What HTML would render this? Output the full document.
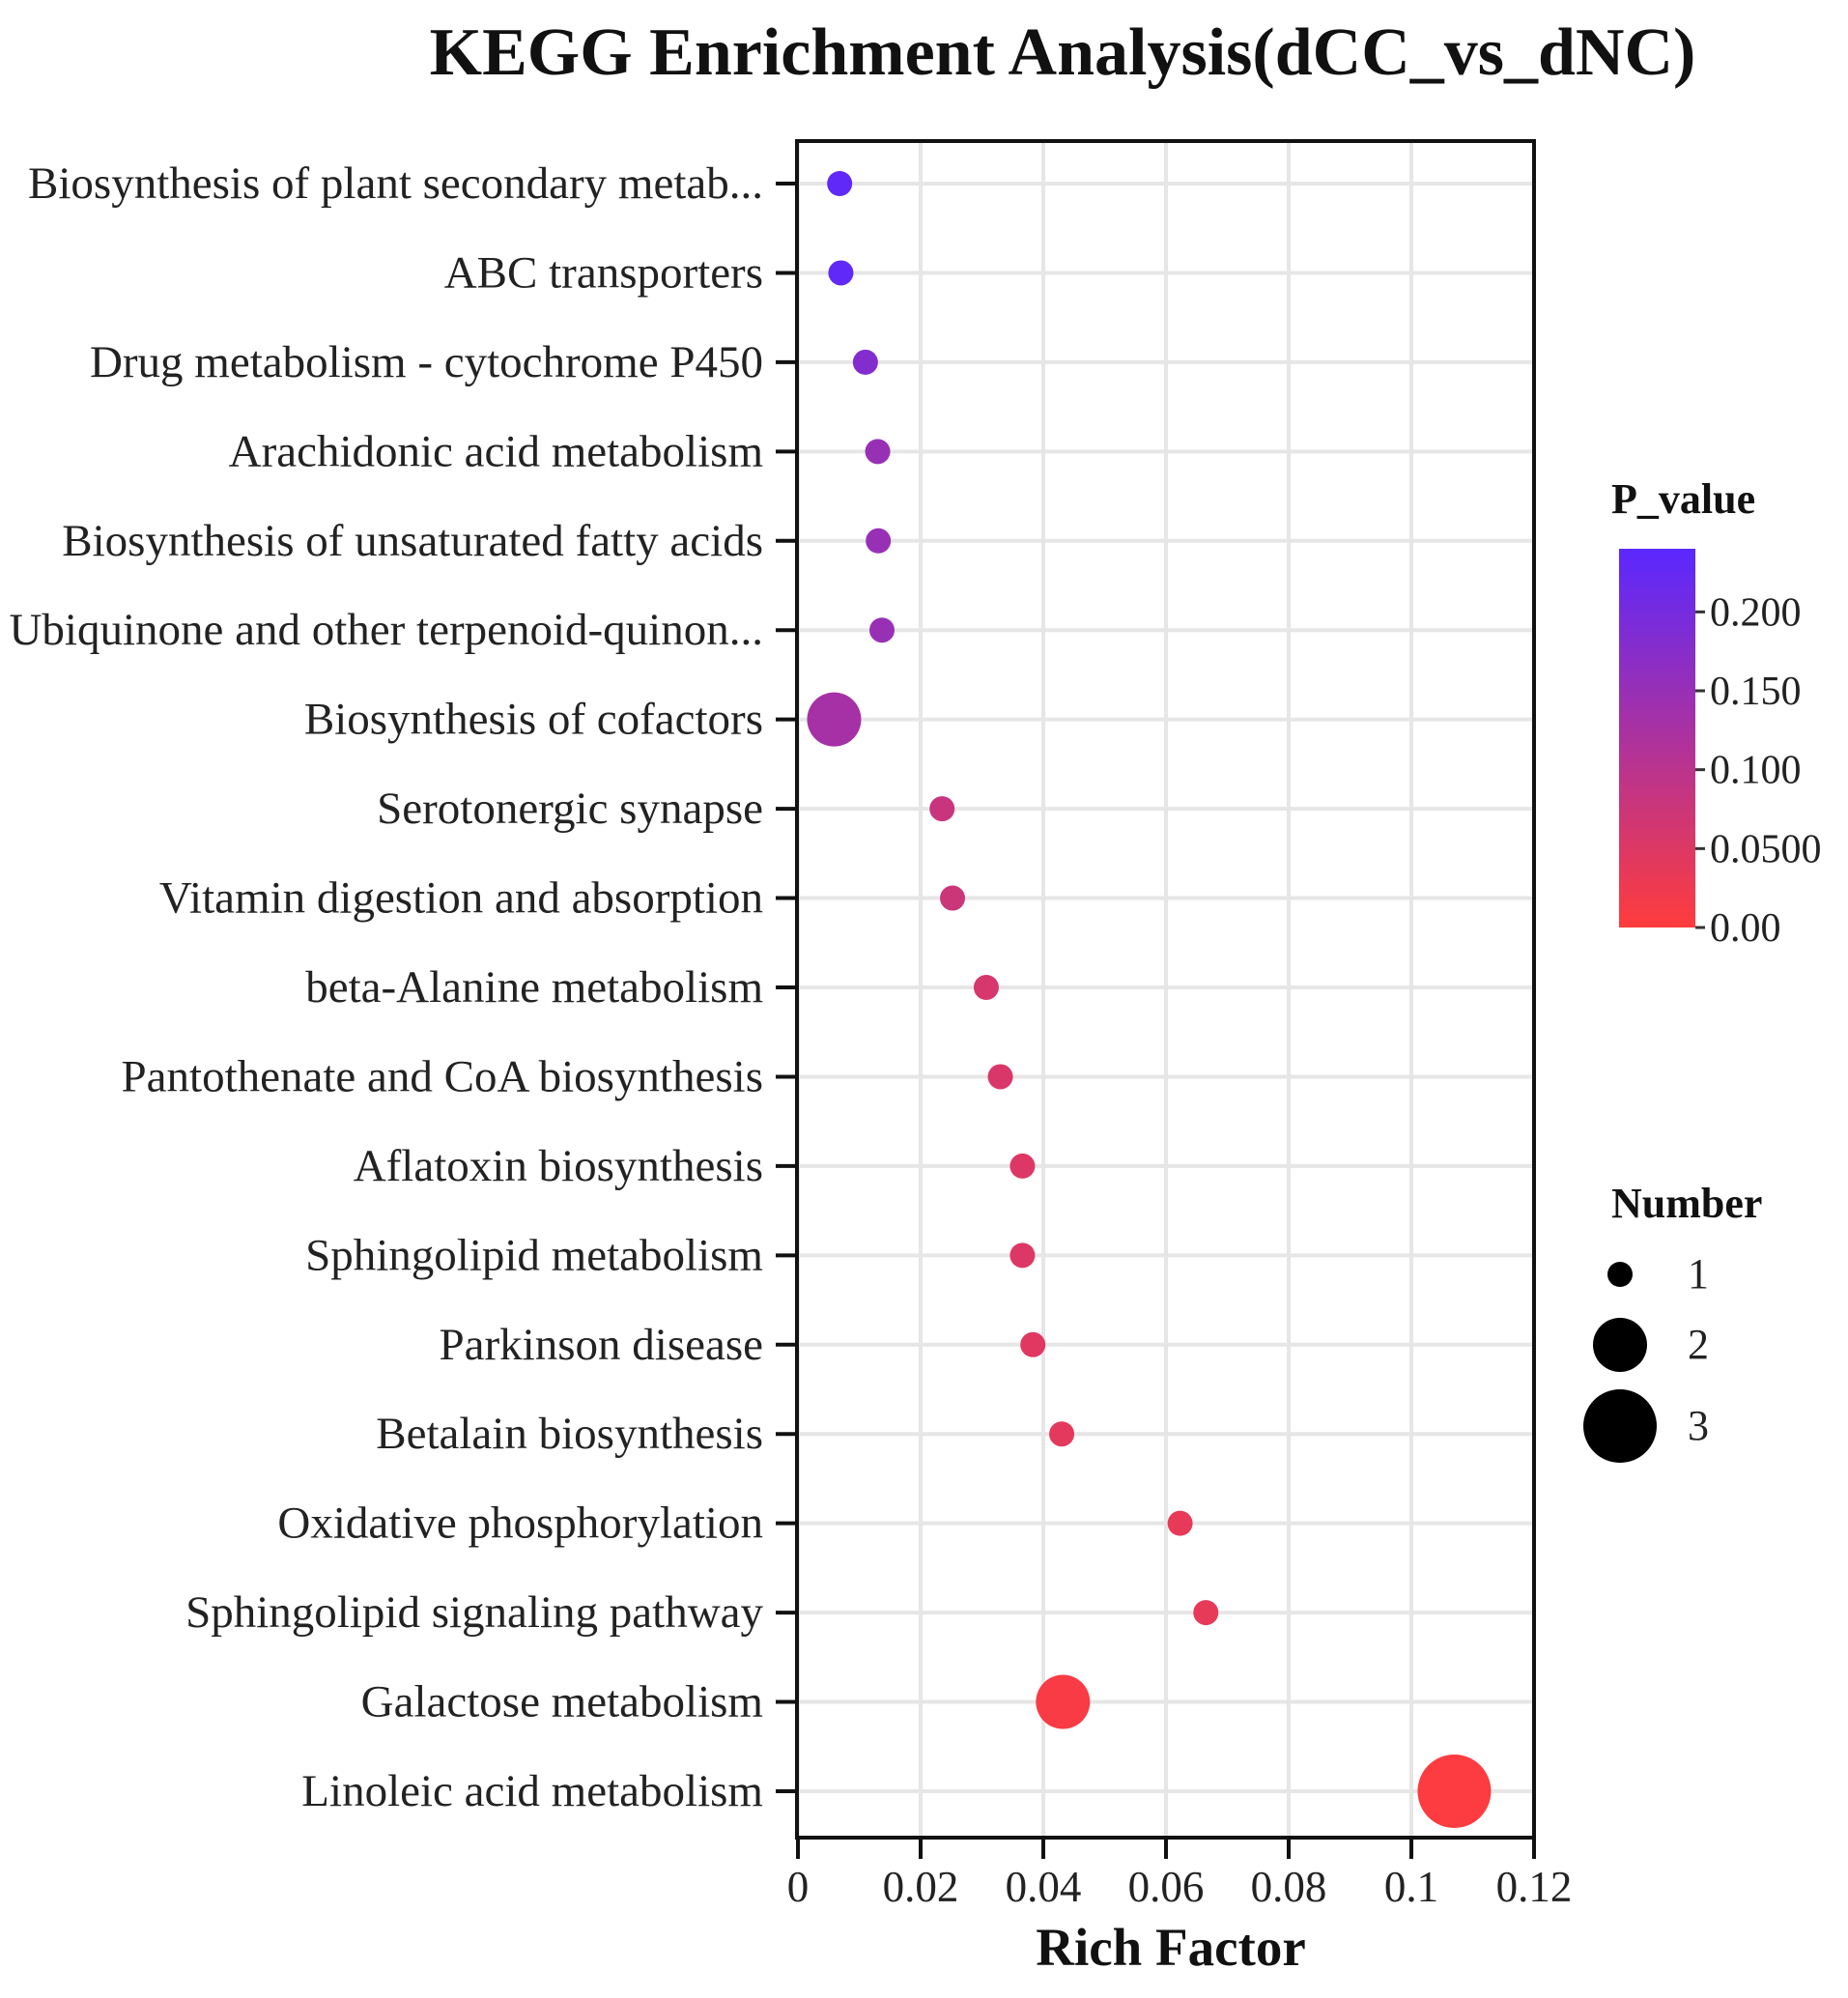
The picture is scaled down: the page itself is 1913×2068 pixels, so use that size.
<!DOCTYPE html>
<html><head><meta charset="utf-8"><style>html,body{margin:0;padding:0;background:#fff}svg{display:block}</style></head>
<body>
<svg id="chart" width="1913" height="2068" xmlns="http://www.w3.org/2000/svg" font-family="Liberation Serif, serif">
<text x="1100" y="77" font-size="70" font-weight="bold" text-anchor="middle" fill="#111">KEGG Enrichment Analysis(dCC_vs_dNC)</text>
<g id="grid"></g><g id="ylab"></g><g id="xlab"></g><g id="dots"></g>
<rect x="825" y="146" width="763" height="1756" fill="none" stroke="#111" stroke-width="4"/>
<text x="1212" y="2034" font-size="55" font-weight="bold" text-anchor="middle" fill="#111">Rich Factor</text>
<defs><linearGradient id="pg" x1="0" y1="1" x2="0" y2="0"><stop offset="0" stop-color="rgb(255,60,60)"/><stop offset="1" stop-color="rgb(90,40,255)"/></linearGradient></defs>
<text x="1668" y="531" font-size="44" font-weight="bold" fill="#111">P_value</text>
<rect x="1676" y="568" width="79" height="392" fill="url(#pg)"/>
<g id="cbticks"></g>
<text x="1668" y="1260" font-size="44" font-weight="bold" fill="#111">Number</text>
<g id="sizeleg"></g>
</svg>
<script>
const categories=["Biosynthesis of plant secondary metab...","ABC transporters","Drug metabolism - cytochrome P450","Arachidonic acid metabolism","Biosynthesis of unsaturated fatty acids","Ubiquinone and other terpenoid-quinon...","Biosynthesis of cofactors","Serotonergic synapse","Vitamin digestion and absorption","beta-Alanine metabolism","Pantothenate and CoA biosynthesis","Aflatoxin biosynthesis","Sphingolipid metabolism","Parkinson disease","Betalain biosynthesis","Oxidative phosphorylation","Sphingolipid signaling pathway","Galactose metabolism","Linoleic acid metabolism"];
const richFactor=[0.0068,0.007,0.011,0.013,0.0131,0.0137,0.0059,0.0235,0.0252,0.0307,0.033,0.0366,0.0366,0.0383,0.043,0.0623,0.0665,0.0432,0.107];
const pValues=[0.23,0.23,0.18,0.15,0.15,0.15,0.13,0.08,0.075,0.06,0.055,0.05,0.05,0.045,0.04,0.035,0.035,0.01,0.005];
const counts=[1,1,1,1,1,1,2,1,1,1,1,1,1,1,1,1,1,2,3];
const xTicks=[0,0.02,0.04,0.06,0.08,0.1,0.12];
const xTickLabels=["0","0.02","0.04","0.06","0.08","0.1","0.12"];
const cbTicks=[0,0.05,0.1,0.15,0.2];
const cbTickLabels=["0.00","0.0500","0.100","0.150","0.200"];
const sizeLegend=[1,2,3];
const NS="http://www.w3.org/2000/svg";
const x=v=>826+v*6350;
const y=i=>190+i*(1854-190)/(categories.length-1);
const r=n=>({1:13,2:28,3:38})[n]||13+(n-1)*12.5;
const pMax=0.24;
const col=p=>{const t=Math.max(0,Math.min(1,p/pMax));return `rgb(${Math.round(255-165*t)},${Math.round(60-20*t)},${Math.round(60+195*t)})`;};
const cy=p=>960-p/pMax*392;
function mk(tag,attrs,parent,text){const e=document.createElementNS(NS,tag);for(const k in attrs)e.setAttribute(k,attrs[k]);if(text!==undefined)e.textContent=text;document.getElementById(parent).appendChild(e);return e;}
xTicks.forEach((v,i)=>{
  const g=mk('line',{x1:x(v),x2:x(v),y1:146,y2:1902,stroke:'#e6e6e6','stroke-width':4},'grid');
  
  
  const t=mk('line',{x1:x(v),x2:x(v),y1:1902,y2:1924,stroke:'#111','stroke-width':4},'xlab');
  
  
  const l=mk('text',{x:x(v),y:1968,'font-size':45,'text-anchor':'middle',fill:'#222'},'xlab',xTickLabels[i]);
  
  
});
categories.forEach((c,i)=>{
  const g=mk('line',{x1:825,x2:1588,y1:y(i),y2:y(i),stroke:'#e6e6e6','stroke-width':4},'grid');
  
  
  const t=mk('line',{x1:803,x2:825,y1:y(i),y2:y(i),stroke:'#111','stroke-width':4},'ylab');
  
  
  const l=mk('text',{x:790,y:y(i)+15,'font-size':47,'text-anchor':'end',fill:'#222'},'ylab',c);
  
  
  const d=mk('circle',{cx:x(richFactor[i]),cy:y(i),r:r(counts[i]),fill:col(pValues[i])},'dots');
  
  
});
cbTicks.forEach((v,i)=>{
  const t=mk('line',{x1:1755,x2:1765,y1:cy(v),y2:cy(v),stroke:'#333','stroke-width':3},'cbticks');
  
  
  const l=mk('text',{x:1770,y:cy(v)+14,'font-size':42,fill:'#222'},'cbticks',cbTickLabels[i]);
  
  
});
const sy=[1319,1392,1476];
sizeLegend.forEach((n,i)=>{
  const c=mk('circle',{cx:1677,cy:sy[i],r:r(n),fill:'#000'},'sizeleg');
  
  
  const l=mk('text',{x:1747,y:sy[i]+14,'font-size':44,fill:'#222'},'sizeleg',String(n));
  
  
});
</script>
</body></html>
